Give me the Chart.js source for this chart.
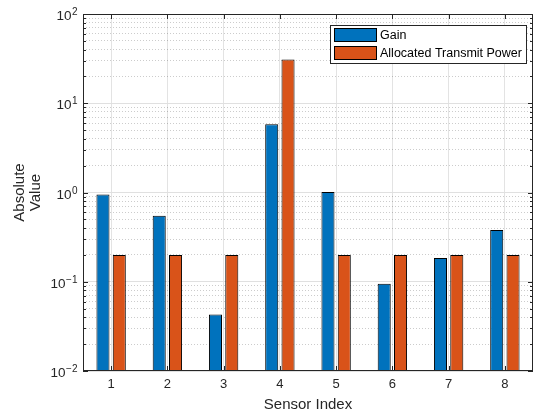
<!DOCTYPE html>
<html><head><meta charset="utf-8">
<script src="https://cdn.jsdelivr.net/npm/chart.js@4/dist/chart.umd.min.js"></script>
<style>html,body{margin:0;padding:0;background:#fff}#wrap{width:537px;height:414px;position:relative}</style>
</head><body><div id="wrap"><canvas id="c" width="537" height="414"></canvas></div>
<script>
const categories = ['1','2','3','4','5','6','7','8'];
const gainValues = [0.95, 0.55, 0.043, 5.8, 1.01, 0.095, 0.185, 0.38];
const powerValues = [0.2, 0.2, 0.2, 31, 0.2, 0.2, 0.2, 0.2];
const seriesNames = ['Gain', 'Allocated Transmit Power'];
const seriesColors = ['#0072BD', '#D95319'];
const yTickValues = [0.01, 0.1, 1, 10, 100];
const yTickBase = '10';
const yTickExponents = ['−2', '−1', '0', '1', '2'];
const xTitle = 'Sensor Index';
const yTitle = ['Absolute', 'Value'];

const FONT = "'Liberation Sans', Arial, Helvetica, sans-serif";
const TXT = '#262626';

const minorTicks = [];
for (let i = 0; i < yTickValues.length - 1; i++) {
  for (let k = 2; k <= 9; k++) minorTicks.push(+(k * yTickValues[i]).toPrecision(6));
}

const boxPlugin = {
  id: 'boxPlugin',
  afterDraw(chart) {
    const ctx = chart.ctx, a = chart.chartArea;
    const xs = chart.scales.x, ys = chart.scales.y;
    ctx.save();
    ctx.strokeStyle = TXT;
    ctx.lineWidth = 1;
    ctx.beginPath();
    for (let i = 0; i < categories.length; i++) {
      const px = Math.round(xs.getPixelForTick(i)) + 0.5;
      ctx.moveTo(px, a.bottom); ctx.lineTo(px, a.bottom - 5);
      ctx.moveTo(px, a.top); ctx.lineTo(px, a.top + 5);
    }
    yTickValues.forEach(v => {
      const py = Math.round(ys.getPixelForValue(v)) + 0.5;
      ctx.moveTo(a.left, py); ctx.lineTo(a.left + 5, py);
      ctx.moveTo(a.right, py); ctx.lineTo(a.right - 5, py);
    });
    minorTicks.forEach(v => {
      const py = Math.round(ys.getPixelForValue(v)) + 0.5;
      ctx.moveTo(a.left, py); ctx.lineTo(a.left + 3, py);
      ctx.moveTo(a.right, py); ctx.lineTo(a.right - 3, py);
    });
    ctx.stroke();
    ctx.strokeRect(Math.round(a.left) + 0.5, Math.round(a.top) + 0.5,
                   Math.round(a.right - a.left) - 1, Math.round(a.bottom - a.top) - 1);

    // y tick labels: base with superscript exponent, placed by the y scale
    ctx.fillStyle = TXT;
    ctx.textAlign = 'right';
    ctx.textBaseline = 'alphabetic';
    yTickValues.forEach((v, i) => {
      const py = ys.getPixelForValue(v);
      const right = a.left - 5.5;
      ctx.font = '10px ' + FONT;
      const ew = ctx.measureText(yTickExponents[i]).width;
      ctx.fillText(yTickExponents[i], right, py + 1);
      ctx.font = '13.5px ' + FONT;
      ctx.fillText(yTickBase, right - ew - 0.5, py + 6);
    });

    // legend
    const lx = 330.5, ly = 25.5, lw = 196, lh = 38;
    ctx.textAlign = 'left';
    ctx.fillStyle = '#fff';
    ctx.fillRect(lx, ly, lw, lh);
    ctx.strokeStyle = '#262626';
    ctx.strokeRect(lx, ly, lw, lh);
    ctx.font = '12.5px ' + FONT;
    ctx.textBaseline = 'middle';
    chart.data.datasets.forEach((ds, i) => {
      const sy = 28.5 + i * 18;
      ctx.fillStyle = ds.backgroundColor;
      ctx.fillRect(334.5, sy, 42, 13);
      ctx.strokeStyle = '#000';
      ctx.strokeRect(334.5, sy, 42, 13);
      ctx.fillStyle = '#000';
      ctx.fillText(ds.label, 380, sy + 7);
    });
    ctx.restore();
  }
};

new Chart(document.getElementById('c'), {
  type: 'bar',
  data: {
    labels: categories,
    datasets: [
      { label: seriesNames[0], data: gainValues, backgroundColor: seriesColors[0], borderColor: '#000', borderWidth: 1, borderSkipped: false },
      { label: seriesNames[1], data: powerValues, backgroundColor: seriesColors[1], borderColor: '#000', borderWidth: 1, borderSkipped: false }
    ]
  },
  options: {
    responsive: false,
    animation: false,
    devicePixelRatio: 1,
    categoryPercentage: 0.58,
    barPercentage: 0.8,
    layout: { padding: { top: 14, right: 4, left: 0, bottom: 0 } },
    plugins: { legend: { display: false }, tooltip: { enabled: false } },
    scales: {
      x: {
        offset: true,
        grid: { offset: false, color: '#e3e3e3', drawTicks: false },
        border: { display: false },
        ticks: { color: TXT, font: { family: FONT, size: 13 }, padding: 6, maxRotation: 0 },
        title: { display: true, text: xTitle, color: TXT, font: { family: FONT, size: 15 }, padding: { top: 2, bottom: 0 } },
        afterFit(s) { s.height = 43; }
      },
      y: {
        type: 'logarithmic',
        position: 'left',
        min: 0.01, max: 100,
        afterBuildTicks(s) { s.ticks = yTickValues.map(v => ({ value: v })); },
        grid: { color: '#e0e0e0', drawTicks: false },
        border: { display: false },
        ticks: { display: false },
        title: { display: true, text: yTitle, color: TXT, font: { family: FONT, size: 15, lineHeight: 1.07 }, padding: { top: 12, bottom: 0 } },
        afterFit(s) { s.width = 83; }
      },
      y2: {
        type: 'logarithmic',
        position: 'left',
        min: 0.01, max: 100,
        afterBuildTicks(s) { s.ticks = minorTicks.map(v => ({ value: v })); },
        grid: { color: 'rgba(0,0,0,0.2)', drawTicks: false },
        border: { display: false, dash: [1, 2] },
        ticks: { display: false },
        afterFit(s) { s.width = 0; }
      }
    }
  },
  plugins: [boxPlugin]
});
</script>
</body></html>
